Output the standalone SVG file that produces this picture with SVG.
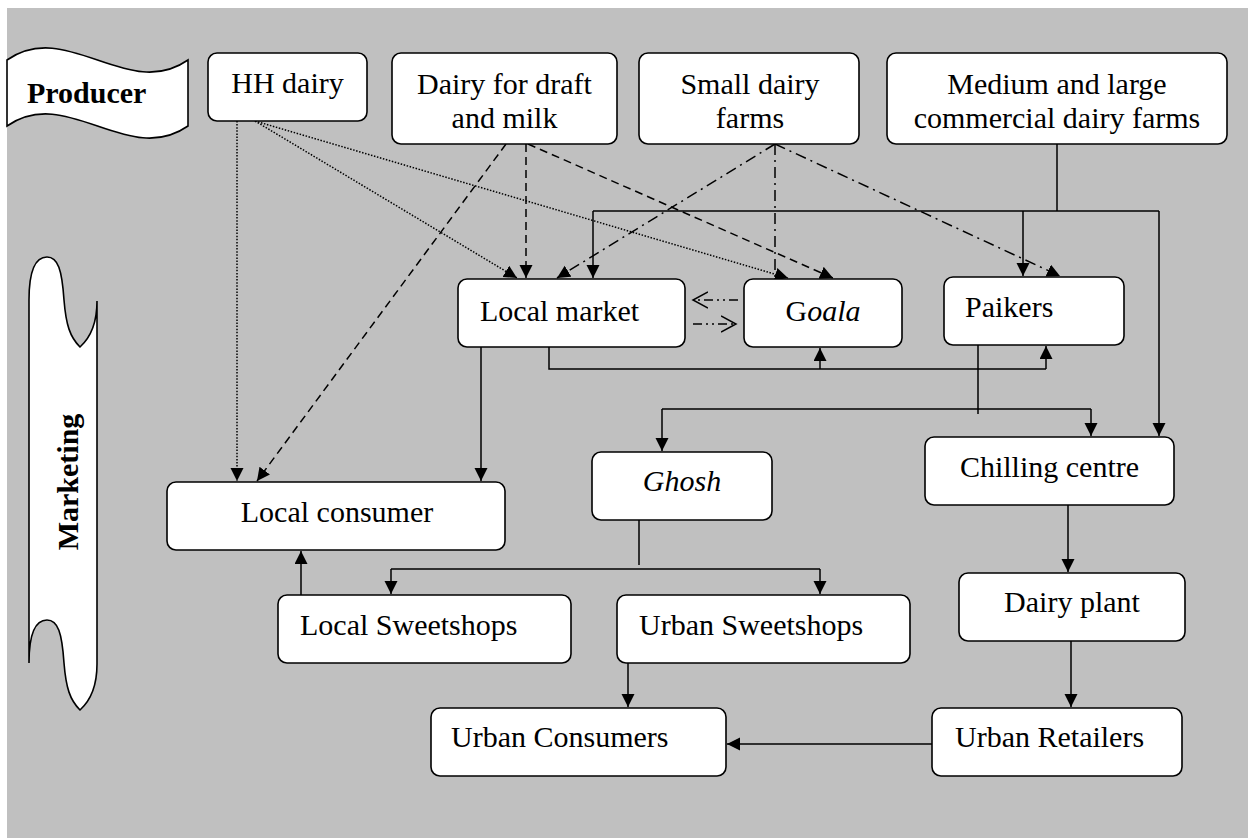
<svg xmlns="http://www.w3.org/2000/svg" width="1252" height="838" viewBox="0 0 1252 838">
  <style>
    .box { fill: #ffffff; stroke: #000000; stroke-width: 1.6; }
    .t { font-family: "Liberation Serif", "Times New Roman", serif; font-size: 30px; fill: #000000; }
    .c { text-anchor: middle; }
    .b { font-weight: bold; }
    .i { font-style: italic; }
    .ln { fill: none; stroke: #000000; stroke-width: 1.5; }
    .dot { stroke-dasharray: 1.5 1.6; }
    .dash { stroke-dasharray: 8 5; }
    .dd { stroke-dasharray: 11 5 2 5; }
    .ddd { stroke-dasharray: 9 4 2 4 2 4; }
    .arr { marker-end: url(#ah); }
    .open { marker-end: url(#oh); }
  </style>
  <defs>
    <marker id="ah" markerUnits="userSpaceOnUse" markerWidth="14" markerHeight="14" refX="13" refY="6.5" orient="auto">
      <path d="M0,0 L13,6.5 L0,13 Z" fill="#000000"/>
    </marker>
    <marker id="oh" markerUnits="userSpaceOnUse" markerWidth="18" markerHeight="20" refX="15" refY="9" orient="auto">
      <path d="M0,1 L15,9 L0,17" fill="none" stroke="#000000" stroke-width="1.5"/>
    </marker>
  </defs>

  <!-- canvas -->
  <rect x="7" y="8" width="1241" height="830" fill="#c0c0c0"/>

  <!-- side banners -->
  <g id="banner-producer">
    <path class="box" d="M7,60 C67,18 128,102 188,60 L188,126 C128,168 67,84 7,126 Z"/>
    <text class="t b" x="27" y="103">Producer</text>
  </g>
  <g id="banner-marketing">
    <path class="box" d="M29,300 C29,270 36,257 47,257 C58,257 62,270 64,300 C66,325 70,337 80,347 C90,338 97,325 97,301 L97,664 C97,688 90,701 80,710 C70,700 66,688 64,663 C62,633 58,620 47,620 C36,620 29,633 29,663 Z"/>
    <text class="t b c" transform="translate(78,482) rotate(-90)">Marketing</text>
  </g>

  <!-- connectors -->
  <g id="connectors">
    <!-- HH dairy (dotted) -->
    <line class="ln dot arr" x1="237" y1="121" x2="237" y2="481"/>
    <line class="ln dot arr" x1="255" y1="121" x2="517" y2="278"/>
    <line class="ln dot arr" x1="255" y1="121" x2="788" y2="278"/>
    <!-- Dairy for draft and milk (dashed) -->
    <line class="ln dash arr" x1="506" y1="144" x2="257" y2="481"/>
    <line class="ln dash arr" x1="526" y1="144" x2="526" y2="278"/>
    <line class="ln dash arr" x1="528" y1="144" x2="833" y2="278"/>
    <!-- Small dairy farms (dash-dot) -->
    <line class="ln dd arr" x1="775" y1="144" x2="557" y2="278"/>
    <line class="ln dd" x1="775" y1="144" x2="775" y2="279"/>
    <line class="ln dd arr" x1="775" y1="144" x2="1060" y2="276"/>
    <!-- Medium and large commercial farms (solid) -->
    <polyline class="ln" points="1057,144 1057,211"/>
    <polyline class="ln" points="593,211 1159,211"/>
    <line class="ln arr" x1="593" y1="211" x2="593" y2="278"/>
    <line class="ln arr" x1="1023" y1="211" x2="1023" y2="276"/>
    <line class="ln arr" x1="1159" y1="211" x2="1159" y2="436"/>
    <!-- Local market <-> Goala -->
    <line class="ln ddd open" x1="738" y1="300" x2="693" y2="300"/>
    <line class="ln ddd open" x1="693" y1="324" x2="736" y2="324"/>
    <!-- Local market to Goala and Paikers -->
    <polyline class="ln" points="549,347 549,369 1046,369"/>
    <line class="ln arr" x1="820" y1="369" x2="820" y2="348"/>
    <line class="ln arr" x1="1046" y1="369" x2="1046" y2="346"/>
    <!-- Local market to Local consumer -->
    <line class="ln arr" x1="481" y1="347" x2="481" y2="481"/>
    <!-- Paikers to Ghosh and Chilling centre -->
    <polyline class="ln" points="978,345 978,414"/>
    <polyline class="ln" points="662,409 1091,409"/>
    <line class="ln arr" x1="662" y1="409" x2="662" y2="451"/>
    <line class="ln arr" x1="1091" y1="409" x2="1091" y2="436"/>
    <!-- Ghosh to sweetshops -->
    <polyline class="ln" points="639,520 639,565"/>
    <polyline class="ln" points="391,569 820,569"/>
    <line class="ln arr" x1="391" y1="569" x2="391" y2="594"/>
    <line class="ln arr" x1="820" y1="569" x2="820" y2="594"/>
    <!-- Local Sweetshops to Local consumer -->
    <line class="ln arr" x1="301" y1="595" x2="301" y2="551"/>
    <!-- Urban Sweetshops to Urban Consumers -->
    <line class="ln arr" x1="628" y1="663" x2="628" y2="707"/>
    <!-- processing chain -->
    <line class="ln arr" x1="1068" y1="505" x2="1068" y2="572"/>
    <line class="ln arr" x1="1071" y1="641" x2="1071" y2="707"/>
    <line class="ln arr" x1="932" y1="744" x2="727" y2="744"/>
  </g>

  <!-- producers -->
  <g id="hh-dairy">
    <rect class="box" x="208" y="53" width="159" height="68" rx="9"/>
    <text class="t c" x="287.5" y="93">HH dairy</text>
  </g>
  <g id="dairy-draft-milk">
    <rect class="box" x="392" y="53" width="225" height="91" rx="9"/>
    <text class="t c" x="504.5" y="94">Dairy for draft</text>
    <text class="t c" x="504.5" y="128">and milk</text>
  </g>
  <g id="small-dairy-farms">
    <rect class="box" x="639" y="53" width="220" height="91" rx="9"/>
    <text class="t c" x="750" y="94">Small dairy</text>
    <text class="t c" x="750" y="128">farms</text>
  </g>
  <g id="commercial-dairy-farms">
    <rect class="box" x="887" y="53" width="340" height="91" rx="9"/>
    <text class="t c" x="1057" y="94">Medium and large</text>
    <text class="t c" x="1057" y="128">commercial dairy farms</text>
  </g>

  <!-- intermediaries -->
  <g id="local-market">
    <rect class="box" x="458" y="279" width="227" height="68" rx="9"/>
    <text class="t" x="480" y="321">Local market</text>
  </g>
  <g id="goala">
    <rect class="box" x="744" y="279" width="158" height="68" rx="9"/>
    <text class="t c" x="823" y="321">G<tspan class="i">oala</tspan></text>
  </g>
  <g id="paikers">
    <rect class="box" x="944" y="277" width="180" height="68" rx="9"/>
    <text class="t" x="965" y="317">Paikers</text>
  </g>
  <g id="ghosh">
    <rect class="box" x="592" y="452" width="180" height="68" rx="9"/>
    <text class="t c i" x="682" y="491">Ghosh</text>
  </g>
  <g id="chilling-centre">
    <rect class="box" x="925" y="437" width="249" height="68" rx="9"/>
    <text class="t c" x="1049.5" y="477">Chilling centre</text>
  </g>

  <!-- outlets and consumers -->
  <g id="local-consumer">
    <rect class="box" x="167" y="482" width="338" height="68" rx="9"/>
    <text class="t c" x="337" y="522">Local consumer</text>
  </g>
  <g id="local-sweetshops">
    <rect class="box" x="278" y="595" width="293" height="68" rx="9"/>
    <text class="t" x="300" y="635">Local Sweetshops</text>
  </g>
  <g id="urban-sweetshops">
    <rect class="box" x="617" y="595" width="293" height="68" rx="9"/>
    <text class="t" x="639" y="635">Urban Sweetshops</text>
  </g>
  <g id="dairy-plant">
    <rect class="box" x="959" y="573" width="226" height="68" rx="9"/>
    <text class="t c" x="1072" y="612">Dairy plant</text>
  </g>
  <g id="urban-consumers">
    <rect class="box" x="431" y="708" width="295" height="68" rx="9"/>
    <text class="t" x="451" y="747">Urban Consumers</text>
  </g>
  <g id="urban-retailers">
    <rect class="box" x="932" y="708" width="250" height="68" rx="9"/>
    <text class="t" x="955" y="747">Urban Retailers</text>
  </g>
</svg>
